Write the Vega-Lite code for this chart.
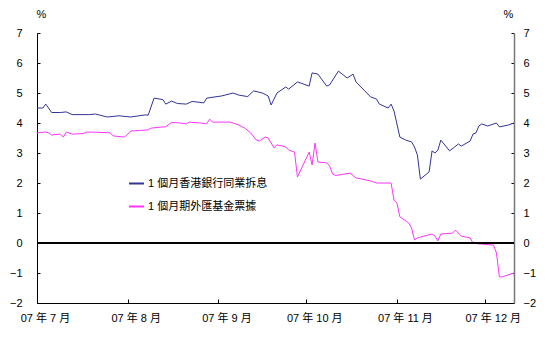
{
  "$schema": "https://vega.github.io/schema/vega-lite/v6.json",
  "width": 477,
  "height": 270,
  "autosize": {"type": "none"},
  "padding": {"left": 37, "top": 33, "right": 42, "bottom": 45},
  "background": "white",
  "config": {
    "view": {"stroke": null},
    "font": "Liberation Sans, Noto Sans CJK TC",
    "axis": {"grid": false, "labelFont": "Liberation Sans, Noto Sans CJK TC", "labelFontSize": 11, "labelColor": "#000", "domainColor": "#000", "tickColor": "#000", "titleFont": "Liberation Sans, Noto Sans CJK TC"}
  },
  "data": {"values": [
    {"date": "2007-07-01", "series": "1 個月香港銀行同業拆息", "value": 4.5},
    {"date": "2007-07-03", "series": "1 個月香港銀行同業拆息", "value": 4.5},
    {"date": "2007-07-04", "series": "1 個月香港銀行同業拆息", "value": 4.63},
    {"date": "2007-07-06", "series": "1 個月香港銀行同業拆息", "value": 4.35},
    {"date": "2007-07-09", "series": "1 個月香港銀行同業拆息", "value": 4.35},
    {"date": "2007-07-11", "series": "1 個月香港銀行同業拆息", "value": 4.37},
    {"date": "2007-07-13", "series": "1 個月香港銀行同業拆息", "value": 4.28},
    {"date": "2007-07-19", "series": "1 個月香港銀行同業拆息", "value": 4.28},
    {"date": "2007-07-21", "series": "1 個月香港銀行同業拆息", "value": 4.3},
    {"date": "2007-07-25", "series": "1 個月香港銀行同業拆息", "value": 4.2},
    {"date": "2007-07-29", "series": "1 個月香港銀行同業拆息", "value": 4.24},
    {"date": "2007-07-30", "series": "1 個月香港銀行同業拆息", "value": 4.23},
    {"date": "2007-08-02", "series": "1 個月香港銀行同業拆息", "value": 4.2},
    {"date": "2007-08-07", "series": "1 個月香港銀行同業拆息", "value": 4.27},
    {"date": "2007-08-08", "series": "1 個月香港銀行同業拆息", "value": 4.26},
    {"date": "2007-08-10", "series": "1 個月香港銀行同業拆息", "value": 4.83},
    {"date": "2007-08-13", "series": "1 個月香港銀行同業拆息", "value": 4.78},
    {"date": "2007-08-14", "series": "1 個月香港銀行同業拆息", "value": 4.63},
    {"date": "2007-08-16", "series": "1 個月香港銀行同業拆息", "value": 4.73},
    {"date": "2007-08-18", "series": "1 個月香港銀行同業拆息", "value": 4.65},
    {"date": "2007-08-21", "series": "1 個月香港銀行同業拆息", "value": 4.63},
    {"date": "2007-08-23", "series": "1 個月香港銀行同業拆息", "value": 4.72},
    {"date": "2007-08-27", "series": "1 個月香港銀行同業拆息", "value": 4.67},
    {"date": "2007-08-28", "series": "1 個月香港銀行同業拆息", "value": 4.83},
    {"date": "2007-09-02", "series": "1 個月香港銀行同業拆息", "value": 4.9},
    {"date": "2007-09-06", "series": "1 個月香港銀行同業拆息", "value": 5.0},
    {"date": "2007-09-08", "series": "1 個月香港銀行同業拆息", "value": 4.93},
    {"date": "2007-09-11", "series": "1 個月香港銀行同業拆息", "value": 4.88},
    {"date": "2007-09-13", "series": "1 個月香港銀行同業拆息", "value": 5.07},
    {"date": "2007-09-16", "series": "1 個月香港銀行同業拆息", "value": 5.0},
    {"date": "2007-09-18", "series": "1 個月香港銀行同業拆息", "value": 4.9},
    {"date": "2007-09-19", "series": "1 個月香港銀行同業拆息", "value": 4.6},
    {"date": "2007-09-21", "series": "1 個月香港銀行同業拆息", "value": 5.0},
    {"date": "2007-09-24", "series": "1 個月香港銀行同業拆息", "value": 5.2},
    {"date": "2007-09-25", "series": "1 個月香港銀行同業拆息", "value": 5.13},
    {"date": "2007-09-28", "series": "1 個月香港銀行同業拆息", "value": 5.37},
    {"date": "2007-10-02", "series": "1 個月香港銀行同業拆息", "value": 5.23},
    {"date": "2007-10-03", "series": "1 個月香港銀行同業拆息", "value": 5.67},
    {"date": "2007-10-05", "series": "1 個月香港銀行同業拆息", "value": 5.63},
    {"date": "2007-10-08", "series": "1 個月香港銀行同業拆息", "value": 5.23},
    {"date": "2007-10-09", "series": "1 個月香港銀行同業拆息", "value": 5.27},
    {"date": "2007-10-12", "series": "1 個月香港銀行同業拆息", "value": 5.73},
    {"date": "2007-10-15", "series": "1 個月香港銀行同業拆息", "value": 5.5},
    {"date": "2007-10-17", "series": "1 個月香港銀行同業拆息", "value": 5.63},
    {"date": "2007-10-18", "series": "1 個月香港銀行同業拆息", "value": 5.37},
    {"date": "2007-10-23", "series": "1 個月香港銀行同業拆息", "value": 4.87},
    {"date": "2007-10-25", "series": "1 個月香港銀行同業拆息", "value": 4.8},
    {"date": "2007-10-26", "series": "1 個月香港銀行同業拆息", "value": 4.63},
    {"date": "2007-10-29", "series": "1 個月香港銀行同業拆息", "value": 4.5},
    {"date": "2007-10-30", "series": "1 個月香港銀行同業拆息", "value": 4.63},
    {"date": "2007-10-31", "series": "1 個月香港銀行同業拆息", "value": 4.4},
    {"date": "2007-11-02", "series": "1 個月香港銀行同業拆息", "value": 3.53},
    {"date": "2007-11-04", "series": "1 個月香港銀行同業拆息", "value": 3.43},
    {"date": "2007-11-06", "series": "1 個月香港銀行同業拆息", "value": 3.37},
    {"date": "2007-11-07", "series": "1 個月香港銀行同業拆息", "value": 3.2},
    {"date": "2007-11-08", "series": "1 個月香港銀行同業拆息", "value": 2.93},
    {"date": "2007-11-09", "series": "1 個月香港銀行同業拆息", "value": 2.13},
    {"date": "2007-11-12", "series": "1 個月香港銀行同業拆息", "value": 2.37},
    {"date": "2007-11-13", "series": "1 個月香港銀行同業拆息", "value": 3.07},
    {"date": "2007-11-14", "series": "1 個月香港銀行同業拆息", "value": 3.0},
    {"date": "2007-11-15", "series": "1 個月香港銀行同業拆息", "value": 3.1},
    {"date": "2007-11-16", "series": "1 個月香港銀行同業拆息", "value": 3.43},
    {"date": "2007-11-19", "series": "1 個月香港銀行同業拆息", "value": 3.07},
    {"date": "2007-11-22", "series": "1 個月香港銀行同業拆息", "value": 3.3},
    {"date": "2007-11-23", "series": "1 個月香港銀行同業拆息", "value": 3.23},
    {"date": "2007-11-26", "series": "1 個月香港銀行同業拆息", "value": 3.4},
    {"date": "2007-11-27", "series": "1 個月香港銀行同業拆息", "value": 3.63},
    {"date": "2007-11-28", "series": "1 個月香港銀行同業拆息", "value": 3.67},
    {"date": "2007-11-29", "series": "1 個月香港銀行同業拆息", "value": 3.9},
    {"date": "2007-11-30", "series": "1 個月香港銀行同業拆息", "value": 3.97},
    {"date": "2007-12-02", "series": "1 個月香港銀行同業拆息", "value": 3.9},
    {"date": "2007-12-05", "series": "1 個月香港銀行同業拆息", "value": 4.0},
    {"date": "2007-12-06", "series": "1 個月香港銀行同業拆息", "value": 3.87},
    {"date": "2007-12-09", "series": "1 個月香港銀行同業拆息", "value": 3.93},
    {"date": "2007-12-11", "series": "1 個月香港銀行同業拆息", "value": 4.0},
    {"date": "2007-07-01", "series": "1 個月期外匯基金票據", "value": 3.67},
    {"date": "2007-07-04", "series": "1 個月期外匯基金票據", "value": 3.7},
    {"date": "2007-07-05", "series": "1 個月期外匯基金票據", "value": 3.67},
    {"date": "2007-07-06", "series": "1 個月期外匯基金票據", "value": 3.6},
    {"date": "2007-07-09", "series": "1 個月期外匯基金票據", "value": 3.63},
    {"date": "2007-07-10", "series": "1 個月期外匯基金票據", "value": 3.53},
    {"date": "2007-07-11", "series": "1 個月期外匯基金票據", "value": 3.7},
    {"date": "2007-07-13", "series": "1 個月期外匯基金票據", "value": 3.63},
    {"date": "2007-07-17", "series": "1 個月期外匯基金票據", "value": 3.65},
    {"date": "2007-07-18", "series": "1 個月期外匯基金票據", "value": 3.7},
    {"date": "2007-07-25", "series": "1 個月期外匯基金票據", "value": 3.68},
    {"date": "2007-07-26", "series": "1 個月期外匯基金票據", "value": 3.67},
    {"date": "2007-07-27", "series": "1 個月期外匯基金票據", "value": 3.57},
    {"date": "2007-07-31", "series": "1 個月期外匯基金票據", "value": 3.53},
    {"date": "2007-08-02", "series": "1 個月期外匯基金票據", "value": 3.73},
    {"date": "2007-08-05", "series": "1 個月期外匯基金票據", "value": 3.75},
    {"date": "2007-08-08", "series": "1 個月期外匯基金票據", "value": 3.77},
    {"date": "2007-08-09", "series": "1 個月期外匯基金票據", "value": 3.83},
    {"date": "2007-08-13", "series": "1 個月期外匯基金票據", "value": 3.87},
    {"date": "2007-08-14", "series": "1 個月期外匯基金票據", "value": 3.87},
    {"date": "2007-08-16", "series": "1 個月期外匯基金票據", "value": 4.02},
    {"date": "2007-08-19", "series": "1 個月期外匯基金票據", "value": 4.0},
    {"date": "2007-08-21", "series": "1 個月期外匯基金票據", "value": 3.97},
    {"date": "2007-08-22", "series": "1 個月期外匯基金票據", "value": 4.03},
    {"date": "2007-08-26", "series": "1 個月期外匯基金票據", "value": 4.0},
    {"date": "2007-08-28", "series": "1 個月期外匯基金票據", "value": 3.97},
    {"date": "2007-08-29", "series": "1 個月期外匯基金票據", "value": 4.13},
    {"date": "2007-08-30", "series": "1 個月期外匯基金票據", "value": 4.03},
    {"date": "2007-09-05", "series": "1 個月期外匯基金票據", "value": 4.03},
    {"date": "2007-09-06", "series": "1 個月期外匯基金票據", "value": 4.0},
    {"date": "2007-09-08", "series": "1 個月期外匯基金票據", "value": 3.93},
    {"date": "2007-09-10", "series": "1 個月期外匯基金票據", "value": 3.83},
    {"date": "2007-09-12", "series": "1 個月期外匯基金票據", "value": 3.67},
    {"date": "2007-09-14", "series": "1 個月期外匯基金票據", "value": 3.43},
    {"date": "2007-09-15", "series": "1 個月期外匯基金票據", "value": 3.4},
    {"date": "2007-09-17", "series": "1 個月期外匯基金票據", "value": 3.53},
    {"date": "2007-09-18", "series": "1 個月期外匯基金票據", "value": 3.5},
    {"date": "2007-09-20", "series": "1 個月期外匯基金票據", "value": 3.17},
    {"date": "2007-09-21", "series": "1 個月期外匯基金票據", "value": 3.27},
    {"date": "2007-09-23", "series": "1 個月期外匯基金票據", "value": 3.23},
    {"date": "2007-09-24", "series": "1 個月期外匯基金票據", "value": 3.2},
    {"date": "2007-09-25", "series": "1 個月期外匯基金票據", "value": 3.1},
    {"date": "2007-09-27", "series": "1 個月期外匯基金票據", "value": 3.03},
    {"date": "2007-09-28", "series": "1 個月期外匯基金票據", "value": 2.2},
    {"date": "2007-10-02", "series": "1 個月期外匯基金票據", "value": 3.03},
    {"date": "2007-10-03", "series": "1 個月期外匯基金票據", "value": 2.6},
    {"date": "2007-10-04", "series": "1 個月期外匯基金票據", "value": 3.33},
    {"date": "2007-10-05", "series": "1 個月期外匯基金票據", "value": 2.7},
    {"date": "2007-10-08", "series": "1 個月期外匯基金票據", "value": 2.67},
    {"date": "2007-10-09", "series": "1 個月期外匯基金票據", "value": 2.57},
    {"date": "2007-10-10", "series": "1 個月期外匯基金票據", "value": 2.3},
    {"date": "2007-10-11", "series": "1 個月期外匯基金票據", "value": 2.25},
    {"date": "2007-10-16", "series": "1 個月期外匯基金票據", "value": 2.33},
    {"date": "2007-10-18", "series": "1 個月期外匯基金票據", "value": 2.17},
    {"date": "2007-10-23", "series": "1 個月期外匯基金票據", "value": 2.07},
    {"date": "2007-10-25", "series": "1 個月期外匯基金票據", "value": 2.0},
    {"date": "2007-10-30", "series": "1 個月期外匯基金票據", "value": 2.0},
    {"date": "2007-10-31", "series": "1 個月期外匯基金票據", "value": 1.43},
    {"date": "2007-11-01", "series": "1 個月期外匯基金票據", "value": 1.33},
    {"date": "2007-11-02", "series": "1 個月期外匯基金票據", "value": 0.87},
    {"date": "2007-11-05", "series": "1 個月期外匯基金票據", "value": 0.67},
    {"date": "2007-11-06", "series": "1 個月期外匯基金票據", "value": 0.5},
    {"date": "2007-11-07", "series": "1 個月期外匯基金票據", "value": 0.1},
    {"date": "2007-11-08", "series": "1 個月期外匯基金票據", "value": 0.17},
    {"date": "2007-11-13", "series": "1 個月期外匯基金票據", "value": 0.3},
    {"date": "2007-11-14", "series": "1 個月期外匯基金票據", "value": 0.23},
    {"date": "2007-11-15", "series": "1 個月期外匯基金票據", "value": 0.07},
    {"date": "2007-11-16", "series": "1 個月期外匯基金票據", "value": 0.3},
    {"date": "2007-11-20", "series": "1 個月期外匯基金票據", "value": 0.33},
    {"date": "2007-11-21", "series": "1 個月期外匯基金票據", "value": 0.43},
    {"date": "2007-11-23", "series": "1 個月期外匯基金票據", "value": 0.23},
    {"date": "2007-11-26", "series": "1 個月期外匯基金票據", "value": 0.17},
    {"date": "2007-11-27", "series": "1 個月期外匯基金票據", "value": 0.0},
    {"date": "2007-11-29", "series": "1 個月期外匯基金票據", "value": -0.03},
    {"date": "2007-12-04", "series": "1 個月期外匯基金票據", "value": -0.07},
    {"date": "2007-12-05", "series": "1 個月期外匯基金票據", "value": -0.33},
    {"date": "2007-12-06", "series": "1 個月期外匯基金票據", "value": -1.13},
    {"date": "2007-12-07", "series": "1 個月期外匯基金票據", "value": -1.13},
    {"date": "2007-12-11", "series": "1 個月期外匯基金票據", "value": -1.0}
  ]},
  "layer": [
    {
      "mark": {"type": "line", "strokeWidth": 1, "interpolate": "linear"},
      "encoding": {
        "x": {
          "field": "date", "type": "temporal",
          "scale": {"type": "utc", "domain": [{"year": 2007, "month": 7, "date": 1, "utc": true}, {"year": 2007, "month": 12, "date": 11, "utc": true}]},
          "axis": {"title": null, "tickCount": {"interval": "month", "step": 1}, "labelExpr": "'07 年 ' + utcFormat(datum.value, '%-m') + ' 月'", "labelAlign": "center", "labelOffset": 8, "tickSize": -4, "labelPadding": 13, "labelBaseline": "top", "labelFlush": false, "labelOverlap": false}
        },
        "y": {
          "field": "value", "type": "quantitative",
          "scale": {"domain": [-2, 7], "nice": false, "zero": false},
          "axis": {"values": [-2, -1, 0, 1, 2, 3, 4, 5, 6, 7], "title": "%", "titleAngle": 0, "titleAlign": "center", "titleBaseline": "middle", "titleX": 4, "titleY": -19, "titleFontSize": 11, "titleFontWeight": "normal", "tickSize": -3, "labelPadding": 18, "format": "d"}
        },
        "color": {
          "field": "series", "type": "nominal",
          "scale": {"domain": ["1 個月香港銀行同業拆息", "1 個月期外匯基金票據"], "range": ["#333399", "#FF33FF"]},
          "legend": {"title": null, "orient": "none", "legendX": 91, "legendY": 142, "symbolType": "stroke", "symbolSize": 225, "symbolStrokeWidth": 2, "labelFontSize": 11, "labelFont": "Liberation Sans, Noto Sans CJK TC", "labelColor": "#000", "labelOffset": 3, "rowPadding": 9, "padding": 0}
        }
      }
    },
    {
      "mark": {"type": "rule", "color": "#000", "strokeWidth": 1},
      "encoding": {
        "y": {
          "datum": 0, "type": "quantitative",
          "scale": {"domain": [-2, 7], "nice": false, "zero": false},
          "axis": {"orient": "right", "values": [-2, -1, 0, 1, 2, 3, 4, 5, 6, 7], "title": "%", "titleAngle": 0, "titleAlign": "center", "titleBaseline": "middle", "titleX": -6, "titleY": -19, "titleFontSize": 11, "titleFontWeight": "normal", "tickSize": -3, "labelPadding": 12, "format": "d", "domainColor": "#777", "domainWidth": 1.5}
        }
      }
    }
  ],
  "resolve": {"scale": {"y": "independent"}}
}
